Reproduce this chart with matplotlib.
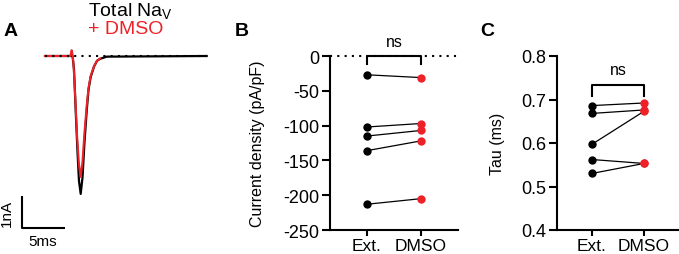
import matplotlib
matplotlib.use("Agg")
import matplotlib.pyplot as plt

plt.rcParams['font.family'] = ['Liberation Sans', 'DejaVu Sans']
plt.rcParams['axes.unicode_minus'] = False

RED = '#ec2228'

# panel A traces (ms, nA)
t_ctrl = [0, 3.2, 3.37, 3.57, 3.78, 3.95, 4.15, 4.36, 4.59, 4.85, 5.06, 5.31, 5.7, 6.05, 6.4, 7.17, 18.8]
i_ctrl = [0, 0, -0.4, -1.71, -3.0, -3.9, -4.31, -3.8, -2.7, -1.71, -1.05, -0.66, -0.33, -0.15, -0.09, -0.02, 0]
t_dmso = [0, 2.9, 3.0, 3.1, 3.2, 3.3, 3.5, 3.75, 3.95, 4.15, 4.36, 4.59, 4.85, 5.06, 5.31, 5.7, 6.05, 6.4]
i_dmso = [0, 0, 0.05, 0.18, 0.05, -0.2, -1.2, -2.6, -3.4, -3.78, -3.3, -2.4, -1.55, -1.0, -0.62, -0.32, -0.15, -0.08]

# panels B and C
groups = ['Ext.', 'DMSO']
ext_density = [-27, -102, -115, -136, -213]
dmso_density = [-31, -97, -107, -122, -205]
ext_tau = [0.686, 0.668, 0.597, 0.562, 0.530]
dmso_tau = [0.692, 0.676, 0.673, 0.553, 0.553]

W, H = 679, 255
fig = plt.figure(figsize=(W / 100, H / 100), dpi=100)

def px_axes(left, top, right, bottom):
    return fig.add_axes([left / W, 1 - bottom / H, (right - left) / W, (bottom - top) / H])

# ---- A ----
axA = px_axes(0, 0, 215, 255)
axA.set_xlim(-45 / 8.6, (215 - 45) / 8.6)
axA.set_ylim(-(255 - 57) / 32, 57 / 32)
axA.axis('off')
axA.plot(t_ctrl, i_ctrl, color='black', lw=1.6, zorder=2)
axA.plot(t_dmso, i_dmso, color=RED, lw=1.5, zorder=3)
axA.plot([0, 18.8], [0, 0], color='black', lw=1.5, dashes=(1, 2.5), zorder=4)
sx, sy = -2.67, -5.375
axA.plot([sx, sx, sx + 5], [sy + 1, sy, sy], color='black', lw=1.5, solid_capstyle='butt')
axA.text(sx - 1.75, sy + 0.5, '1nA', rotation=90, ha='center', va='center', fontsize=11)
axA.text(sx + 2.45, sy - 0.4, '5ms', ha='center', va='center', fontsize=11)

fig.text(88 / W, 1 - 12 / H, 'Total Na$_\\mathregular{V}$', ha='left', va='center', fontsize=14)
fig.text(88 / W, 1 - 29 / H, '+ DMSO', ha='left', va='center', fontsize=14, color=RED)

for lab, x in [('A', 4), ('B', 235), ('C', 480)]:
    fig.text(x / W, 1 - 32 / H, lab, ha='left', va='center', fontsize=14, fontweight='bold')

def style(ax):
    for s in ['top', 'right']:
        ax.spines[s].set_visible(False)
    for s in ['left', 'bottom']:
        ax.spines[s].set_linewidth(1.5)
    ax.tick_params(axis='y', length=6, width=1.5, labelsize=13, pad=2)
    ax.tick_params(axis='x', length=4.5, width=1.5, labelsize=12.5, pad=1.5)
    ax.set_xticks([0, 1])
    ax.set_xticklabels(groups)

def pairs(ax, a, b):
    for ya, yb in zip(a, b):
        ax.plot([0, 1], [ya, yb], color='black', lw=0.9, zorder=2)
    ax.scatter([0] * len(a), a, s=36, color='black', zorder=3, linewidths=0)
    ax.scatter([1] * len(b), b, s=36, color=RED, zorder=3, linewidths=0)

# ---- B ----
axB = px_axes(330, 57, 458, 231)
style(axB)
axB.set_xlim(-0.685, 1.69)
axB.set_ylim(-250, 0)
axB.set_yticks([0, -50, -100, -150, -200, -250])
axB.axhline(0, color='black', lw=1.5, dashes=(1, 2.5), zorder=1, clip_on=False)
pairs(axB, ext_density, dmso_density)
axB.plot([0, 0, 1, 1], [-11, 0, 0, -11], color='black', lw=1.5, clip_on=False, zorder=4)
axB.text(0.5, 21, 'ns', ha='center', va='center', fontsize=11.5)
axB.set_ylabel('Current density (pA/pF)', fontsize=11.5)
axB.yaxis.set_label_coords(-0.51, 0.5)

# ---- C ----
axC = px_axes(557, 57, 679, 231)
style(axC)
axC.set_xlim(-0.67, 1.67)
axC.set_ylim(0.4, 0.8)
axC.set_yticks([0.4, 0.5, 0.6, 0.7, 0.8])
pairs(axC, ext_tau, dmso_tau)
axC.plot([0, 0, 1, 1], [0.709, 0.734, 0.734, 0.709], color='black', lw=1.5, zorder=4)
axC.text(0.5, 0.77, 'ns', ha='center', va='center', fontsize=11.5)
axC.set_ylabel('Tau (ms)', fontsize=11.5)
axC.yaxis.set_label_coords(-0.426, 0.5)

fig.savefig('out.png', dpi=100)
